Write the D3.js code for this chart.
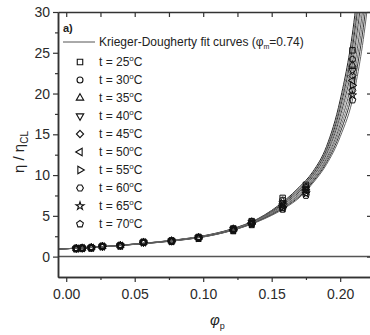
<!DOCTYPE html>
<html>
<head>
<meta charset="utf-8">
<script src="https://cdn.jsdelivr.net/npm/d3@7"></script>
<style>
  body { margin: 0; background: #fff; }
  svg { font-family: "Liberation Sans", Arial, sans-serif; }
</style>
</head>
<body>
<div id="chart"></div>
<script>
// measured points
const temps = [25, 30, 35, 40, 45, 50, 55, 60, 65, 70];
const phiP = [0.0073, 0.0117, 0.0183, 0.0264, 0.0395, 0.0564, 0.0769, 0.0966, 0.1220, 0.1354, 0.1580, 0.1750, 0.2090];
const etaP = [
    [1.00, 1.05, 1.10, 1.28, 1.38, 1.78, 1.95, 2.40, 3.45, 4.35, 7.20, 8.80, 25.3],
    [1.00, 1.05, 1.10, 1.27, 1.37, 1.77, 1.94, 2.38, 3.40, 4.30, 6.95, 8.60, 24.2],
    [1.00, 1.04, 1.10, 1.26, 1.36, 1.76, 1.93, 2.36, 3.38, 4.25, 6.75, 8.45, 23.5],
    [0.99, 1.04, 1.09, 1.25, 1.35, 1.75, 1.92, 2.34, 3.35, 4.20, 6.55, 8.30, 22.8],
    [0.99, 1.04, 1.09, 1.25, 1.35, 1.75, 1.91, 2.32, 3.32, 4.15, 6.40, 8.20, 22.2],
    [0.99, 1.04, 1.09, 1.24, 1.34, 1.74, 1.90, 2.30, 3.30, 4.10, 6.25, 8.10, 21.6],
    [0.99, 1.03, 1.08, 1.24, 1.34, 1.73, 1.89, 2.28, 3.27, 4.05, 6.10, 8.00, 21.0],
    [0.98, 1.03, 1.08, 1.23, 1.33, 1.73, 1.88, 2.26, 3.24, 4.00, 6.00, 7.85, 20.4],
    [0.98, 1.03, 1.08, 1.23, 1.33, 1.72, 1.87, 2.24, 3.20, 3.95, 5.90, 7.70, 19.8],
    [0.98, 1.02, 1.07, 1.22, 1.32, 1.72, 1.86, 2.22, 3.15, 3.90, 5.80, 7.50, 19.2]
];

// fit curves
const phiFit = [-0.006, 0.02, 0.05, 0.08, 0.10, 0.12, 0.14, 0.16, 0.17, 0.18, 0.19, 0.20, 0.21, 0.22, 0.23];
const etaFit = [
    [0.93, 1.15, 1.55, 2.05, 2.55, 3.35, 4.65, 6.95, 8.50, 10.40, 13.50, 19.2, 28.7, 46.0, 75.0],
    [0.93, 1.15, 1.54, 2.04, 2.53, 3.32, 4.61, 6.84, 8.36, 10.24, 13.26, 18.7, 27.7, 44.3, 72.2],
    [0.93, 1.15, 1.54, 2.03, 2.51, 3.30, 4.57, 6.74, 8.21, 10.09, 13.01, 18.2, 26.8, 42.6, 69.4],
    [0.93, 1.14, 1.53, 2.02, 2.49, 3.27, 4.53, 6.63, 8.07, 9.93, 12.77, 17.7, 25.8, 40.9, 66.7],
    [0.93, 1.14, 1.53, 2.01, 2.47, 3.25, 4.49, 6.53, 7.92, 9.78, 12.52, 17.2, 24.8, 39.2, 63.9],
    [0.93, 1.14, 1.52, 2.00, 2.46, 3.23, 4.45, 6.42, 7.78, 9.62, 12.28, 16.7, 23.9, 37.6, 61.1],
    [0.93, 1.14, 1.52, 1.99, 2.45, 3.21, 4.42, 6.32, 7.63, 9.47, 12.03, 16.2, 22.9, 35.9, 58.3],
    [0.93, 1.13, 1.51, 1.98, 2.43, 3.19, 4.38, 6.21, 7.49, 9.31, 11.79, 15.7, 21.9, 34.2, 55.6],
    [0.93, 1.13, 1.51, 1.96, 2.42, 3.17, 4.34, 6.11, 7.34, 9.16, 11.54, 15.2, 21.0, 32.5, 52.8],
    [0.93, 1.13, 1.50, 1.95, 2.40, 3.15, 4.30, 6.00, 7.20, 9.00, 11.30, 14.7, 20.0, 30.8, 50.0]
];

const xTicks = [0, 0.05, 0.10, 0.15, 0.20];
const xMinor = [0.025, 0.075, 0.125, 0.175];
const yTicks = [0, 5, 10, 15, 20, 25, 30];
const yMinor = [2.5, 7.5, 12.5, 17.5, 22.5, 27.5];

const width = 370, height = 335;
const plotLeft = 58, plotRight = 371, plotTop = 12, plotBottom = 277;

const svg = d3.select("#chart")
    .append("svg")
    .attr("width", width)
    .attr("height", height);

const x = d3.scaleLinear().domain([-0.006, 0.2225]).range([plotLeft, plotRight]);
const y = d3.scaleLinear().domain([-2.5, 30]).range([plotBottom, plotTop]);

svg.append("clipPath").attr("id", "clip")
    .append("rect")
    .attr("x", plotLeft).attr("y", plotTop)
    .attr("width", plotRight - plotLeft).attr("height", plotBottom - plotTop);

// zero line
svg.append("line")
    .attr("x1", plotLeft).attr("x2", plotRight)
    .attr("y1", y(0)).attr("y2", y(0))
    .attr("stroke", "#555")
    .attr("stroke-width", 1.5);

// fit curves
const line = d3.line()
    .x(d => x(d[0]))
    .y(d => y(d[1]))
    .curve(d3.curveMonotoneX);

const curveColors = ["#222", "#777", "#333", "#888", "#444", "#999", "#555", "#777", "#333", "#666"];

svg.append("g")
    .attr("clip-path", "url(#clip)")
    .selectAll("path")
    .data(etaFit)
    .enter()
    .append("path")
    .attr("d", d => line(phiFit.map((p, i) => [p, d[i]])))
    .attr("fill", "none")
    .attr("stroke", (d, i) => curveColors[i])
    .attr("stroke-width", 1);

// symbols
function polygon(n, rot) {
    return {
        draw(ctx, size) {
            const r = Math.sqrt(size / (n * Math.sin(2 * Math.PI / n) / 2));
            for (let k = 0; k < n; k++) {
                const a = rot + k * 2 * Math.PI / n;
                const px = r * Math.sin(a), py = -r * Math.cos(a);
                if (k === 0) ctx.moveTo(px, py); else ctx.lineTo(px, py);
            }
            ctx.closePath();
        }
    };
}
const symbolTypes = [
    polygon(4, Math.PI / 4),   // square
    d3.symbolCircle,
    polygon(3, 0),             // up
    polygon(3, Math.PI),       // down
    polygon(4, 0),             // diamond
    polygon(3, -Math.PI / 2),  // left
    polygon(3, Math.PI / 2),   // right
    polygon(6, Math.PI / 6),   // hexagon
    d3.symbolStar,
    polygon(5, 0)              // pentagon
];
const symbolSizes = [30, 28, 24, 24, 26, 24, 24, 30, 20, 30];
const symbol = i => d3.symbol().type(symbolTypes[i]).size(symbolSizes[i])();

const gPts = svg.append("g").attr("clip-path", "url(#clip)");
etaP.forEach((series, i) => {
    gPts.selectAll(null)
        .data(series)
        .enter()
        .append("path")
        .attr("d", symbol(i))
        .attr("transform", (d, j) => "translate(" + x(phiP[j]) + "," + y(d) + ")")
        .attr("fill", "none")
        .attr("stroke", "#111")
        .attr("stroke-width", 1);
});

// axes
function styleAxis(g) {
    g.selectAll(".domain").attr("stroke", "#333").attr("stroke-width", 1.5);
    g.selectAll(".tick line").attr("stroke", "#333").attr("stroke-width", 1.2);
    g.selectAll(".tick text").attr("fill", "#2a2a2a").style("font-size", "14px")
        .style("font-family", "'Liberation Sans', Arial, sans-serif");
}

svg.append("g")
    .attr("transform", "translate(0," + plotBottom + ")")
    .call(d3.axisBottom(x).tickValues(xTicks).tickFormat(d3.format(".2f")).tickSizeInner(5).tickSizeOuter(0).tickPadding(7))
    .call(styleAxis);
svg.append("g")
    .attr("transform", "translate(0," + plotBottom + ")")
    .call(d3.axisBottom(x).tickValues(xMinor).tickFormat("").tickSizeInner(3).tickSizeOuter(0))
    .call(styleAxis);
svg.append("g")
    .attr("transform", "translate(0," + plotTop + ")")
    .call(d3.axisBottom(x).tickValues(xTicks.concat(xMinor)).tickFormat("").tickSizeInner(5).tickSizeOuter(0))
    .call(styleAxis);

svg.append("g")
    .attr("transform", "translate(" + plotLeft + ",0)")
    .call(d3.axisLeft(y).tickValues(yTicks).tickSizeInner(5).tickSizeOuter(0).tickPadding(3))
    .call(styleAxis);
svg.append("g")
    .attr("transform", "translate(" + plotLeft + ",0)")
    .call(d3.axisLeft(y).tickValues(yMinor).tickFormat("").tickSizeInner(3).tickSizeOuter(0))
    .call(styleAxis);
svg.append("g")
    .attr("transform", "translate(" + plotRight + ",0)")
    .call(d3.axisLeft(y).tickValues(yTicks).tickFormat("").tickSizeInner(4).tickSizeOuter(0))
    .call(styleAxis);

// legend
svg.append("text")
    .attr("x", 63).attr("y", 32)
    .style("font-size", "11px").style("font-weight", "bold")
    .attr("fill", "#222")
    .text("a)");

svg.append("line")
    .attr("x1", 63).attr("x2", 95)
    .attr("y1", 42).attr("y2", 42)
    .attr("stroke", "#555").attr("stroke-width", 1);

const fitLabel = svg.append("text")
    .attr("x", 99).attr("y", 46)
    .style("font-size", "12px")
    .attr("fill", "#222");
fitLabel.append("tspan").text("Krieger-Dougherty fit curves (φ");
fitLabel.append("tspan").attr("dy", 3).style("font-size", "7px").text("m");
fitLabel.append("tspan").attr("dy", -3).text("=0.74)");

const legendRows = svg.append("g")
    .selectAll("g")
    .data(temps)
    .enter()
    .append("g")
    .attr("transform", (d, i) => "translate(0," + (62 + i * 18) + ")");

legendRows.append("path")
    .attr("d", (d, i) => symbol(i))
    .attr("transform", "translate(80,0)")
    .attr("fill", "none")
    .attr("stroke", "#111")
    .attr("stroke-width", 1.1);

const rowText = legendRows.append("text")
    .attr("x", 99).attr("y", 4)
    .style("font-size", "12px")
    .attr("fill", "#222");
rowText.append("tspan").text(d => "t = " + d);
rowText.append("tspan").attr("dy", -5).style("font-size", "8px").text("o");
rowText.append("tspan").attr("dy", 5).text("C");

// axis titles
const yTitle = svg.append("text")
    .attr("transform", "translate(24,152) rotate(-90)")
    .attr("text-anchor", "middle")
    .style("font-size", "15px")
    .attr("fill", "#222");
yTitle.append("tspan").text("η / η");
yTitle.append("tspan").attr("dy", 4).style("font-size", "10px").text("CL");

const xTitle = svg.append("text")
    .attr("x", 210).attr("y", 325)
    .style("font-size", "15px")
    .attr("fill", "#222");
xTitle.append("tspan").style("font-style", "italic").text("φ");
xTitle.append("tspan").attr("dy", 4).style("font-size", "9px").text("p");
</script>
</body>
</html>
